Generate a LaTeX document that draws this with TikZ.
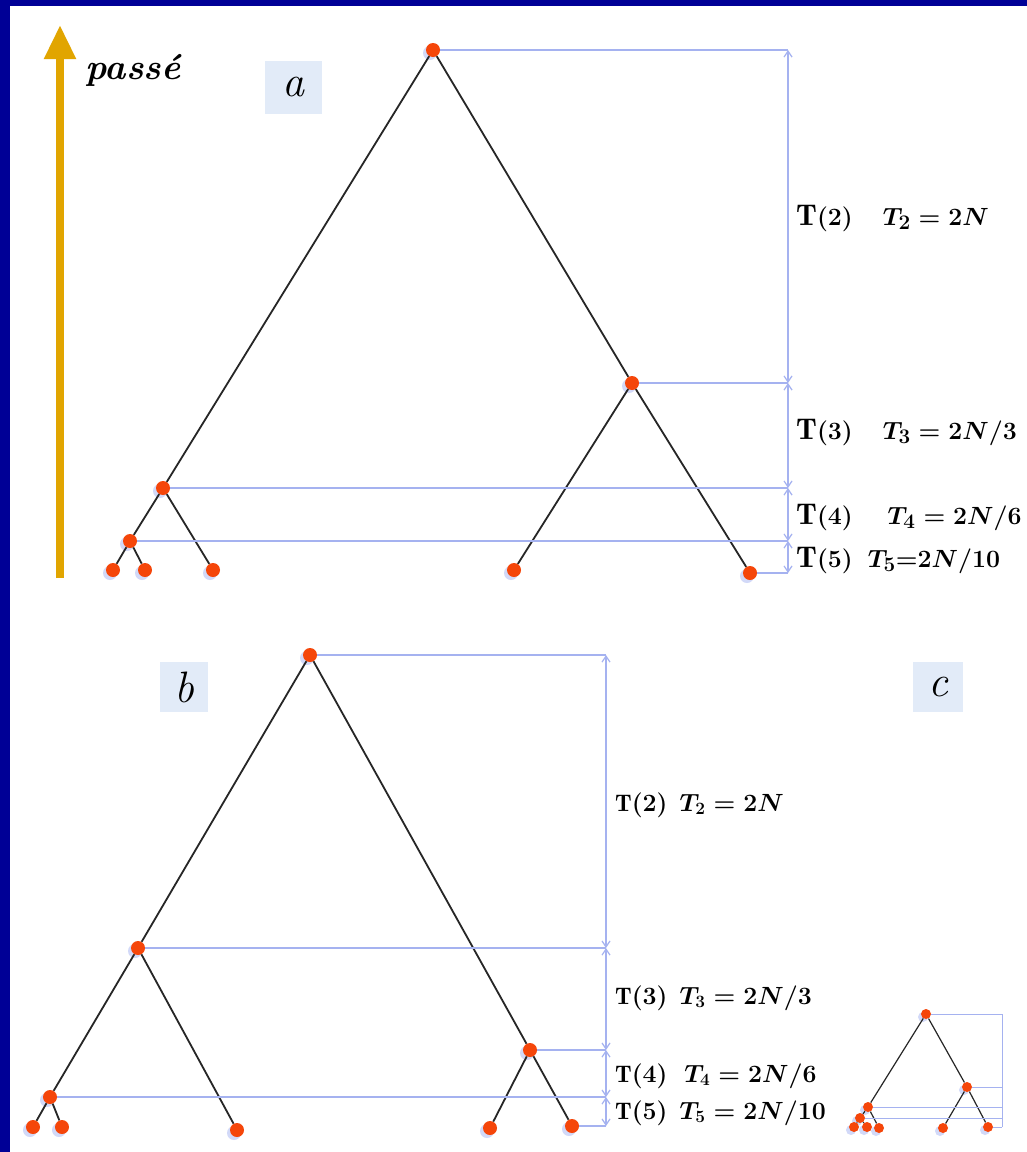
\documentclass[tikz,border=0pt]{standalone}
\usepackage{fontspec}
\usepackage{tikz}
\usetikzlibrary{arrows.meta, positioning, calc, shadows}

\definecolor{framebl}{RGB}{0,0,150}
\definecolor{dotred}{RGB}{245,70,10}
\definecolor{guidebl}{RGB}{165,178,240}
\definecolor{tagbl}{RGB}{226,235,248}
\definecolor{timeor}{RGB}{225,165,0}

\tikzset{
    dot/.style={circle, fill=dotred, inner sep=0pt, minimum size=14pt,
        drop shadow={shadow xshift=-3pt, shadow yshift=-3pt, fill=guidebl!50, opacity=1}},
    small dot/.style={dot, minimum size=10pt},
    branch/.style={black!85, line width=1.8pt},
    guide/.style={guidebl, line width=1.2pt},
    span/.style={guidebl, line width=1.2pt, {Straight Barb[length=6pt,width=8pt]}-{Straight Barb[length=6pt,width=8pt]}},
    tag/.style={fill=tagbl, inner sep=0pt, font=\fontsize{44}{48}\selectfont\itshape},
    time/.style={anchor=west, inner sep=0pt, font=\fontsize{30}{34}\selectfont\boldmath},
    time small/.style={time, font=\fontsize{24}{28}\selectfont\boldmath}
}

\begin{document}
\begin{tikzpicture}[x=1pt, y=-1pt]
    % frame
    \fill[framebl] (0,0) rectangle (1027,1152);
    \fill[white] (10,6) rectangle (1027,1152);
    \useasboundingbox (0,0) rectangle (1027,1152);

    % time axis
    \coordinate (now) at (60,578);
    \coordinate (past) at (60,25);
    \draw[timeor, line width=8pt, -{Triangle[width=30pt,length=34pt]}] (now) -- (past);
    \node[font=\fontsize{36}{40}\selectfont\bfseries\itshape] (passe) at (133,70) {passé};

    % --- tree a ---
    \node[tag, minimum width=57pt, minimum height=53pt] (taga) at (293,87) {a};
    \node[dot] (aR) at (433,50) {};
    \node[dot] (aB) at (632,383) {};
    \node[dot] (aL) at (163,488) {};
    \node[dot] (aLL) at (130,541) {};
    \node[dot] (a1) at (113,570) {};
    \node[dot] (a2) at (145,570) {};
    \node[dot] (a3) at (213,570) {};
    \node[dot] (a4) at (514,570) {};
    \node[dot] (a5) at (750,573) {};
    \foreach \u/\v in {aR/aL, aR/aB, aL/aLL, aL/a3, aLL/a1, aLL/a2, aB/a4, aB/a5}
        \draw[branch] (\u) -- (\v);
    \coordinate (aX) at (788,0);
    \foreach \n in {aR, aB, aL, aLL, a5}
        \draw[guide] (\n.east) -- (\n.east -| aX);
    \draw[span] (aR.east -| aX) -- (aB.east -| aX);
    \draw[span] (aB.east -| aX) -- (aL.east -| aX);
    \draw[span] (aL.east -| aX) -- (aLL.east -| aX);
    \draw[span] (aLL.east -| aX) -- (a5.east -| aX);
    \node[time] (aT2) at (796,218) {$\mathrm{T}(2)\quad T_2 = 2N$};
    \node[time] (aT3) at (796,432) {$\mathrm{T}(3)\quad T_3 = 2N/3$};
    \node[time] (aT4) at (796,517) {$\mathrm{T}(4)\quad\, T_4 = 2N/6$};
    \node[time] (aT5) at (796,560) {$\mathrm{T}(5)\enspace T_5 {=} 2N/10$};

    % --- tree b ---
    \node[tag, minimum width=48pt, minimum height=50pt] (tagb) at (184,687) {b};
    \node[dot] (bR) at (310,655) {};
    \node[dot] (bL) at (138,948) {};
    \node[dot] (bB) at (530,1050) {};
    \node[dot] (bLL) at (50,1097) {};
    \node[dot] (b1) at (33,1127) {};
    \node[dot] (b2) at (62,1127) {};
    \node[dot] (b3) at (237,1130) {};
    \node[dot] (b4) at (490,1128) {};
    \node[dot] (b5) at (572,1126) {};
    \foreach \u/\v in {bR/bL, bR/bB, bL/bLL, bL/b3, bLL/b1, bLL/b2, bB/b4, bB/b5}
        \draw[branch] (\u) -- (\v);
    \coordinate (bX) at (606,0);
    \foreach \n in {bR, bL, bB, bLL, b5}
        \draw[guide] (\n.east) -- (\n.east -| bX);
    \draw[span] (bR.east -| bX) -- (bL.east -| bX);
    \draw[span] (bL.east -| bX) -- (bB.east -| bX);
    \draw[span] (bB.east -| bX) -- (bLL.east -| bX);
    \draw[span] (bLL.east -| bX) -- (b5.east -| bX);
    \node[time small] (bT2) at (615,805) {$\mathrm{T}(2)\enspace T_2 = 2N$};
    \node[time small] (bT3) at (615,998) {$\mathrm{T}(3)\enspace T_3 = 2N/3$};
    \node[time small] (bT4) at (615,1076) {$\mathrm{T}(4)\enspace\, T_4 = 2N/6$};
    \node[time small] (bT5) at (615,1113) {$\mathrm{T}(5)\enspace T_5 = 2N/10$};

    % --- tree c ---
    \node[tag, minimum width=50pt, minimum height=50pt] (tagc) at (938,687) {c};
    \node[small dot] (cR) at (926,1014) {};
    \node[small dot] (cB) at (967,1087) {};
    \node[small dot] (cL) at (868,1107) {};
    \node[small dot] (cLL) at (860,1118) {};
    \node[small dot] (c1) at (854,1127) {};
    \node[small dot] (c2) at (867,1127) {};
    \node[small dot] (c3) at (879,1128) {};
    \node[small dot] (c4) at (943,1128) {};
    \node[small dot] (c5) at (988,1127) {};
    \foreach \u/\v in {cR/cL, cR/cB, cL/cLL, cL/c3, cLL/c1, cLL/c2, cB/c4, cB/c5}
        \draw[branch, line width=1.2pt] (\u) -- (\v);
    \coordinate (cX) at (1002,0);
    \foreach \n in {cR, cB, cL, cLL, c5}
        \draw[guide, line width=0.9pt] (\n.east) -- (\n.east -| cX);
    \draw[guide, line width=0.9pt] (cR.east -| cX) -- (c5.east -| cX);
\end{tikzpicture}
\end{document}
